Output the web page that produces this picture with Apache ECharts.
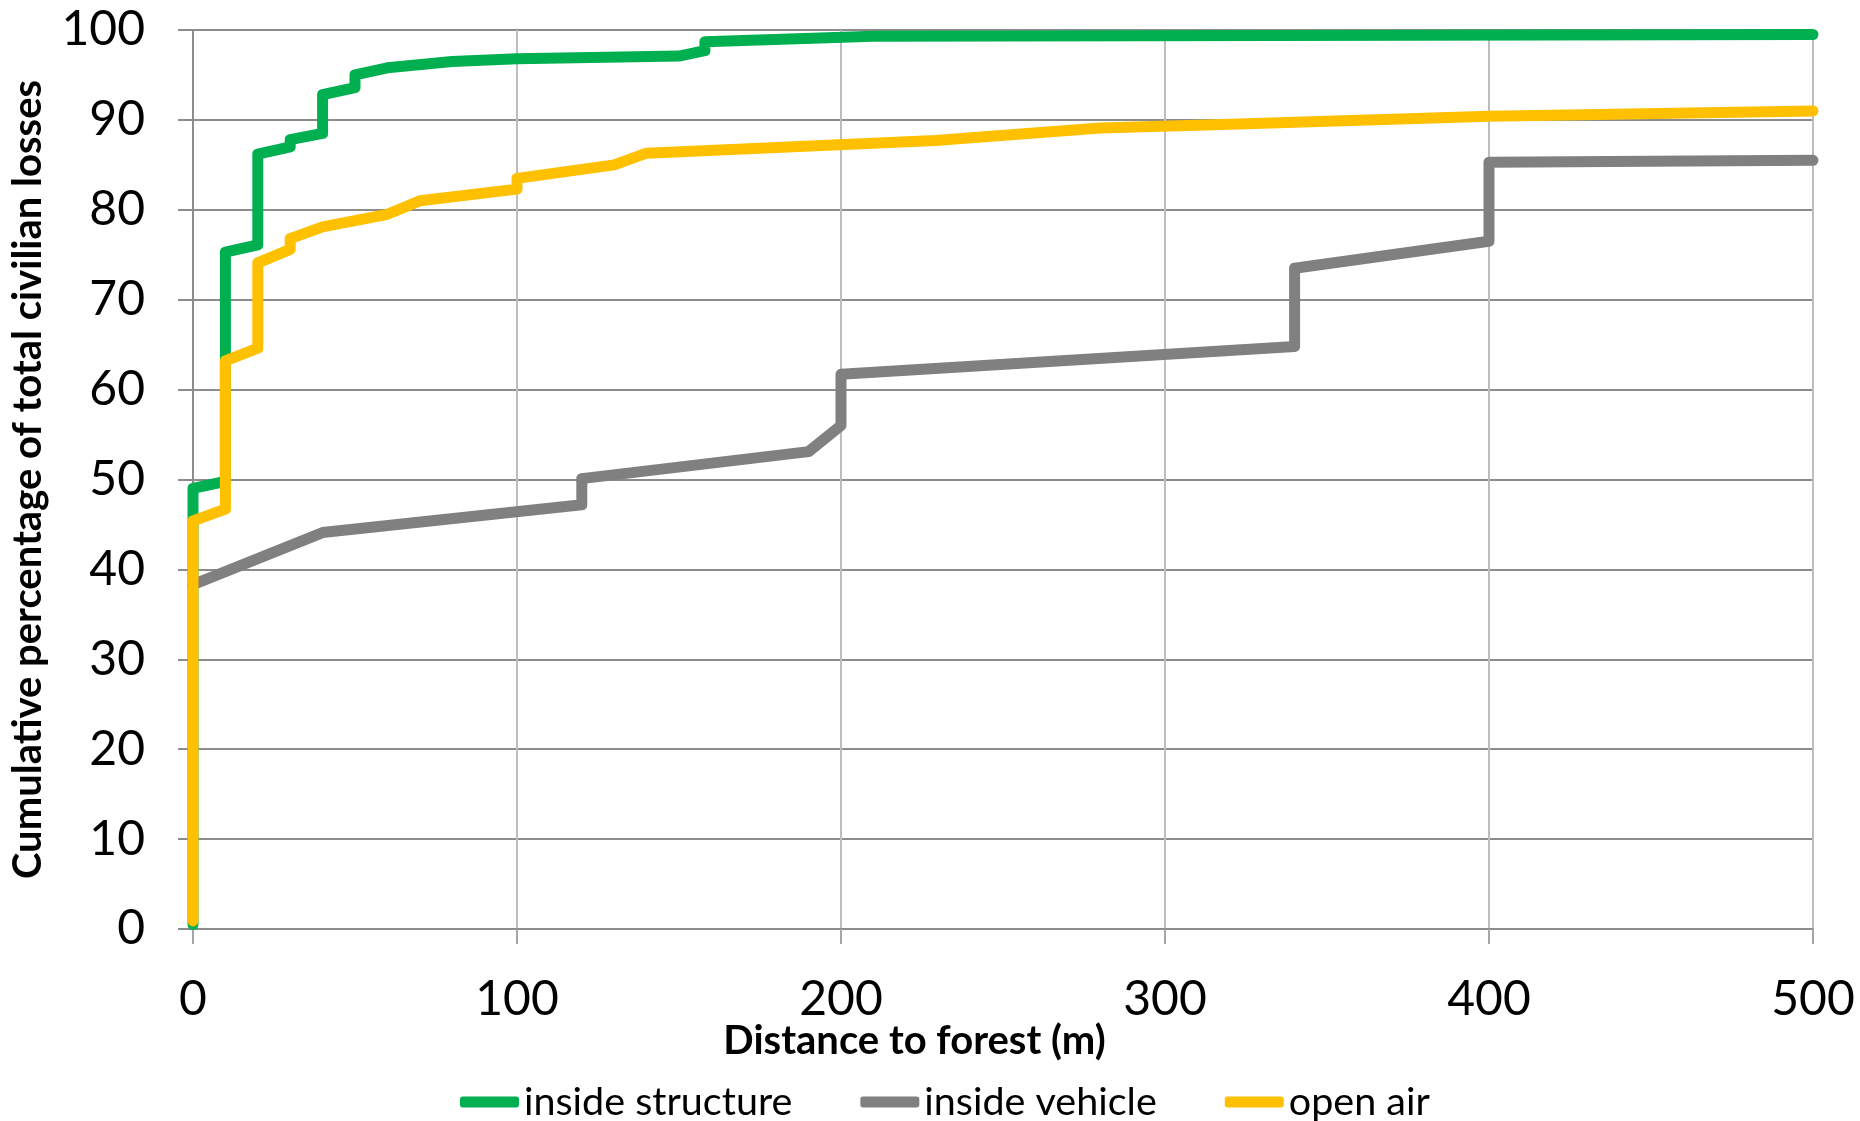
<!DOCTYPE html>
<html><head><meta charset="utf-8">
<script src="https://cdn.jsdelivr.net/npm/echarts@6/dist/echarts.min.js"></script>
<style>html,body{margin:0;padding:0;background:#fff}#c{width:1860px;height:1121px}</style>
</head><body><div id="c"></div>
<script>
// ---- data ----
const seriesNames = ['inside structure', 'inside vehicle', 'open air'];
const xTickValues = [0, 100, 200, 300, 400, 500];
const yTickValues = [0, 10, 20, 30, 40, 50, 60, 70, 80, 90, 100];
const xAxisTitle = 'Distance to forest (m)';
const yAxisTitle = 'Cumulative percentage of total civilian losses';

const insideStructure = [
  [0, 0.5], [0, 49], [10, 49.8], [10, 75.3], [20, 76.1], [20, 86.2], [30, 87.0], [30, 87.8],
  [40, 88.5], [40, 92.8], [50, 93.6], [50, 95.0], [60, 95.8], [80, 96.5], [100, 96.8],
  [150, 97.1], [158, 97.7], [158, 98.7], [210, 99.3], [500, 99.5]
];
const insideVehicle = [
  [0, 38.3], [40, 44.1], [120, 47.2], [120, 50.1], [190, 53.1], [200, 56.0], [200, 61.7],
  [340, 64.8], [340, 73.5], [400, 76.5], [400, 85.3], [500, 85.5]
];
const openAir = [
  [0, 0.9], [0, 45.4], [10, 46.7], [10, 63.2], [20, 64.6], [20, 74.1], [30, 75.6], [30, 76.8],
  [40, 78.1], [60, 79.5], [70, 81.0], [100, 82.3], [100, 83.5], [130, 85.0], [140, 86.3],
  [229, 87.7], [280, 89.1], [310, 89.4], [400, 90.4], [500, 91.0]
];

// ---- style ----
const colors = ['#00B050', '#808080', '#FFC000'];
const FONT = 'Lato';

const chart = echarts.init(document.getElementById('c'), null, {renderer: 'canvas'});
const seriesData = [insideStructure, insideVehicle, openAir];

chart.setOption({
  animation: false,
  backgroundColor: '#ffffff',
  grid: {left: 190, right: 47, top: 30, bottom: 192, containLabel: false},
  legend: {
    data: seriesNames,
    left: 460, top: 1082,
    padding: 0,
    itemGap: 68,
    itemWidth: 59, itemHeight: 11,
    icon: 'roundRect',
    textStyle: {fontFamily: FONT, fontSize: 39.5, color: '#000'}
  },
  xAxis: {
    type: 'value', min: xTickValues[0], max: xTickValues[xTickValues.length - 1],
    interval: xTickValues[1] - xTickValues[0],
    name: xAxisTitle, nameLocation: 'middle', nameGap: 92, nameMoveOverlap: false,
    nameTextStyle: {fontFamily: FONT, fontWeight: 'bold', fontSize: 40, color: '#000', padding: [0, 177, 0, 0]},
    axisLine: {show: true, lineStyle: {color: '#8C8C8C', width: 2}},
    axisTick: {show: true, length: 15, lineStyle: {color: '#A6A6A6', width: 2}},
    axisLabel: {fontFamily: FONT, fontSize: 48, color: '#000', margin: 47},
    splitLine: {show: true, lineStyle: {color: '#BDBDBD', width: 2}}
  },
  yAxis: {
    type: 'value', min: yTickValues[0], max: yTickValues[yTickValues.length - 1],
    interval: yTickValues[1] - yTickValues[0],
    name: yAxisTitle, nameLocation: 'middle', nameGap: 145, nameMoveOverlap: false,
    nameTextStyle: {fontFamily: FONT, fontWeight: 'bold', fontSize: 40, color: '#000'},
    axisLine: {show: true, lineStyle: {color: '#8C8C8C', width: 2}},
    axisTick: {show: true, length: 15, lineStyle: {color: '#8C8C8C', width: 2}},
    axisLabel: {fontFamily: FONT, fontSize: 48, color: '#000', margin: 48},
    splitLine: {show: true, lineStyle: {color: '#8C8C8C', width: 2}}
  },
  series: seriesNames.map((n, i) => ({
    name: n, type: 'line', data: seriesData[i],
    symbol: 'none', smooth: false,
    color: colors[i],
    lineStyle: {color: colors[i], width: 11, join: 'round', cap: 'round'},
    emphasis: {disabled: true}
  }))
});
</script></body></html>
